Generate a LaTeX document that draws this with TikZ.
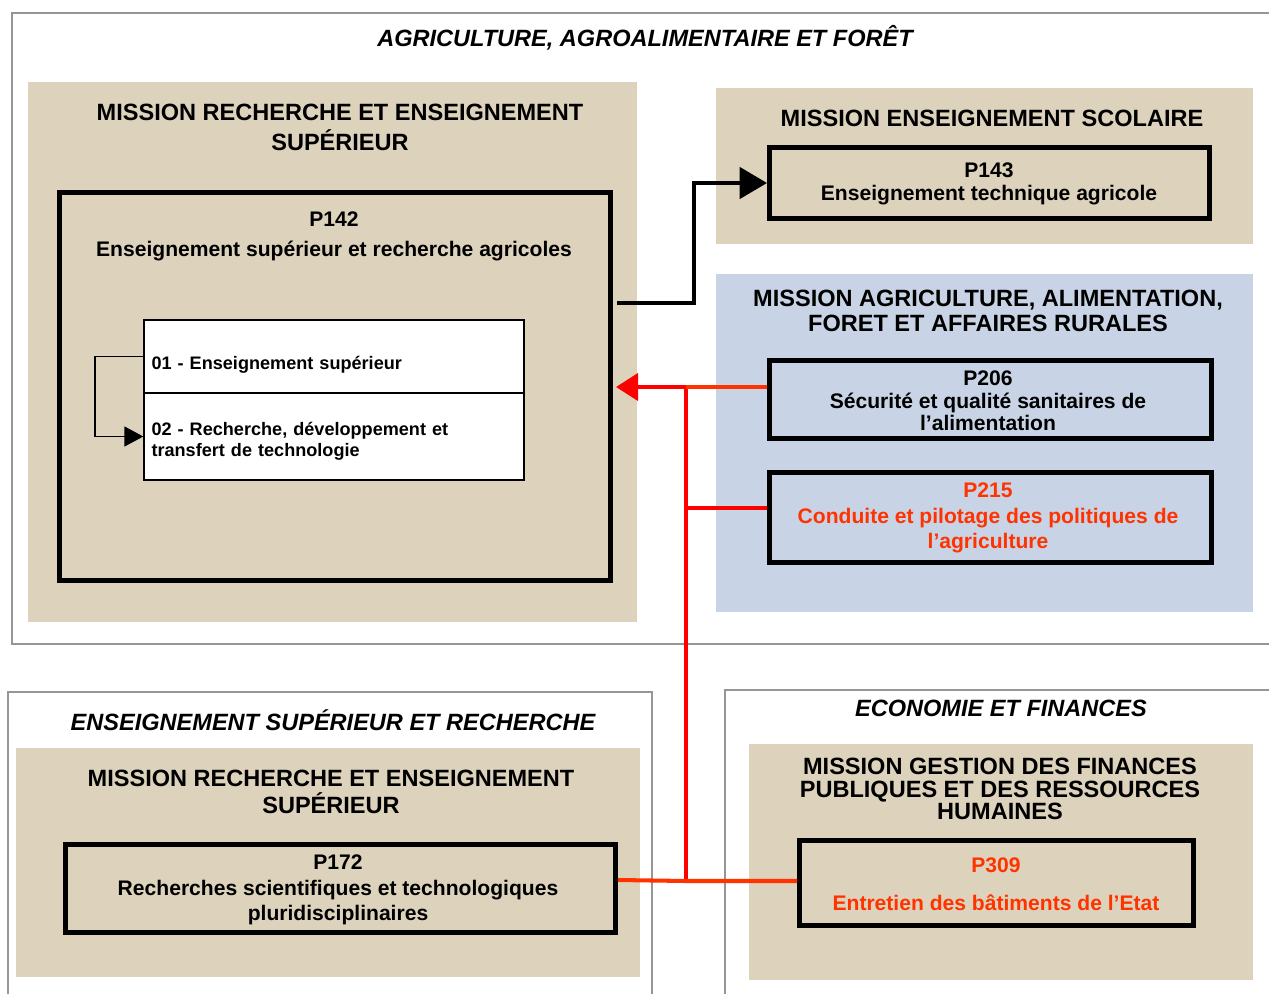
\documentclass[tikz,border=0pt]{standalone}
\usepackage{fontspec}
\setmainfont{Liberation Sans}
\usetikzlibrary{arrows.meta}
\definecolor{beige}{RGB}{221,211,188}
\definecolor{bleu}{RGB}{200,212,230}
\definecolor{rouge}{RGB}{255,51,0}
\definecolor{cadre}{RGB}{150,150,150}
\newcommand{\gros}{\fontsize{13.4}{17}\selectfont\bfseries}
\newcommand{\moyen}{\fontsize{12}{13}\selectfont\bfseries}
\newcommand{\petit}{\fontsize{10.3}{12}\selectfont\bfseries}
\tikzset{
  ministere/.style={draw=cadre, line width=0.8pt},
  mission/.style={fill=beige},
  prog/.style={draw, line width=2.8pt, inner sep=0pt},
  action/.style={draw, fill=white, line width=0.8pt, minimum width=7.6cm,
    text width=7.3cm, inner xsep=0.15cm, align=left, font=\petit},
  titre/.style={font=\gros\itshape},
  texte/.style={align=center, inner sep=0pt},
  liaison/.style={line width=2.3pt},
}

\begin{document}
\begin{tikzpicture}[x=0.02cm, y=-0.02cm]
\useasboundingbox (0,0) rectangle (1269,994);
% ministeres
\draw[ministere] (12,13) rectangle (1290,644);
\draw[ministere] (8,692) rectangle (652,1010);
\draw[ministere] (725,690) rectangle (1290,1010);
\node[titre] (agri) at (645,38) {AGRICULTURE, AGROALIMENTAIRE ET FORÊT};
\node[titre] (esr) at (333,720) {ENSEIGNEMENT SUPÉRIEUR ET RECHERCHE};
\node[titre] (eco) at (1001,708) {ECONOMIE ET FINANCES};
% missions
\fill[mission] (28,82) rectangle (637,622);
\fill[mission] (716,88) rectangle (1253,244);
\fill[bleu] (716,274) rectangle (1253,612);
\fill[mission] (16,748) rectangle (640,977);
\fill[mission] (749,744) rectangle (1253,980);
\node[texte, font=\gros] (mrech) at (340,127) {MISSION RECHERCHE ET ENSEIGNEMENT\\SUPÉRIEUR};
\node[texte, font=\gros] (mscol) at (992,118) {MISSION ENSEIGNEMENT SCOLAIRE};
\node[texte, font=\gros] (maaf) at (988,311) {MISSION AGRICULTURE, ALIMENTATION,\\[-2.8pt]FORET ET AFFAIRES RURALES};
\node[texte, font=\gros] (mrech2) at (331,792) {MISSION RECHERCHE ET ENSEIGNEMENT\\[-1.7pt]SUPÉRIEUR};
\node[texte, font=\gros] (mgfp) at (1000,789) {MISSION GESTION DES FINANCES\\[-4.3pt]PUBLIQUES ET DES RESSOURCES\\[-4.3pt]HUMAINES};
% programmes
\node[prog, minimum width=11.02cm, minimum height=7.76cm] (p142) at (335,386.5) {};
\node[prog, minimum width=8.8cm, minimum height=1.42cm] (p143) at (989.5,183) {};
\node[prog, minimum width=8.84cm, minimum height=1.56cm] (p206) at (990.5,399.5) {};
\node[prog, minimum width=8.84cm, minimum height=1.8cm] (p215) at (990.5,517.5) {};
\node[prog, minimum width=11cm, minimum height=1.76cm] (p172) at (340.5,888.5) {};
\node[prog, minimum width=7.88cm, minimum height=1.7cm] (p309) at (996.5,883) {};
\node[texte, font=\moyen] (t142) at (334,236) {P142\\[4pt]Enseignement supérieur et recherche agricoles};
\node[texte, font=\moyen] (t143) at (989,184) {P143\\Enseignement technique agricole};
\node[texte, font=\moyen] (t206) at (988,401) {P206\\[-0.3pt]Sécurité et qualité sanitaires de\\[-0.3pt]l’alimentation};
\node[texte, font=\moyen, text=rouge] (t215) at (988,518) {P215\\[1.7pt]Conduite et pilotage des politiques de\\[1.7pt]l’agriculture};
\node[texte, font=\moyen] (t172) at (338,890) {P172\\[1.5pt]Recherches scientifiques et technologiques\\[1.5pt]pluridisciplinaires};
\node[texte, font=\moyen, text=rouge] (t309) at (996,884) {P309\\[8.5pt]Entretien des bâtiments de l’Etat};
% actions
\node[action, minimum height=1.46cm, text height=16.5pt, text depth=2.2pt] (s01) at (334,356.5) {01 - Enseignement supérieur};
\node[action, minimum height=1.74cm, text height=13pt] (s02) at (334,436.5) {02 - Recherche, développement et\\transfert de technologie};
% liaisons
\coordinate (boucle) at (95,400);
\coordinate (out142) at (617,303);
\coordinate (coude) at (694,303);
\coordinate (bus) at (686,387);
\coordinate (bus215) at (686,508);
\coordinate (bus309) at (686,881);
\coordinate (out172) at (618,880);
\coordinate (tip142) at (616,387);
\draw[line width=0.8pt, -{Triangle[length=0.38cm,width=0.4cm]}] (s01.west) -- (s01.west -| boucle) |- (s02.west);
\draw[line width=2.8pt, -{Triangle[length=0.55cm,width=0.62cm]}] (out142) -- (coude) |- (p143.west);
\draw[liaison, red] (bus) -- (bus309);
\draw[liaison, rouge] (p206.west |- bus) -- (bus);
\draw[liaison, red, -{Triangle[length=0.44cm,width=0.54cm]}] (bus) -- (tip142);
\draw[liaison, red] (bus215) -- (p215.west |- bus215);
\draw[liaison, rouge] (out172) -- (bus309) -- (p309.west |- bus309);
\end{tikzpicture}
\end{document}
